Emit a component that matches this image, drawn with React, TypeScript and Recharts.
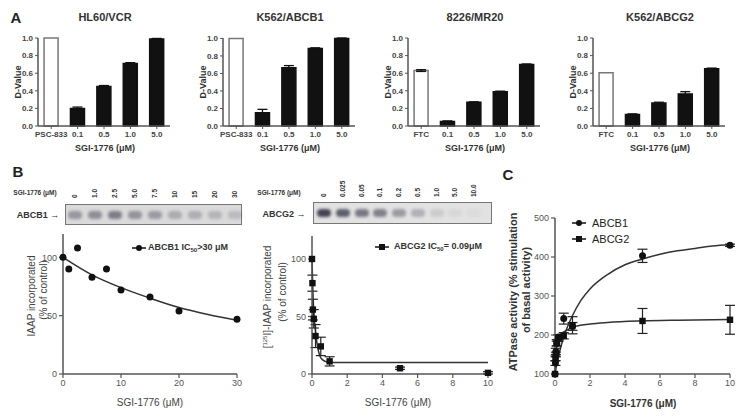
import React from 'react';
import { BarChart, Bar, Cell, ErrorBar, XAxis, YAxis, ComposedChart, Line, Scatter } from 'recharts';

// Panel A: D-values
const aTitles = ['HL60/VCR', 'K562/ABCB1', '8226/MR20', 'K562/ABCG2'];
const aCatsPsc = ['PSC-833', '0.1', '0.5', '1.0', '5.0'];
const aCatsFtc = ['FTC', '0.1', '0.5', '1.0', '5.0'];
const aTicks = [0, 0.2, 0.4, 0.6, 0.8, 1.0];
const hl60Vals = [1.0, 0.2, 0.45, 0.71, 0.99];
const hl60Err = [0, 0.015, 0.01, 0.01, 0.005];
const k562b1Vals = [1.0, 0.15, 0.665, 0.885, 1.0];
const k562b1Err = [0, 0.04, 0.025, 0.008, 0.005];
const mr20Vals = [0.63, 0.05, 0.27, 0.39, 0.7];
const mr20Err = [0.01, 0.008, 0.005, 0.006, 0.005];
const k562g2Vals = [0.605, 0.13, 0.26, 0.365, 0.65];
const k562g2Err = [0, 0.008, 0.01, 0.025, 0.008];

// Panel B: photolabeling gels
const gelB1Lanes = ['0', '1.0', '2.5', '5.0', '7.5', '10', '15', '20', '30'];
const gelB1Density = [0.4, 0.45, 0.55, 0.42, 0.38, 0.28, 0.26, 0.22, 0.18];
const gelG2Lanes = ['0', '0.025', '0.05', '0.1', '0.2', '0.5', '1.0', '5.0', '10.0'];
const gelG2Density = [0.9, 0.75, 0.6, 0.55, 0.4, 0.28, 0.12, 0.06, 0.04];

// Panel B: IAAP incorporation
const b1Conc = [0, 1, 2.5, 5, 7.5, 10, 15, 20, 30];
const b1Iaap = [100, 90, 108, 83, 90, 72, 66, 54, 47];
const b1FitConc = [0, 5, 10, 15, 20, 25, 30];
const b1FitIaap = [100, 85, 74, 65, 57, 51, 46];
const g2Conc = [0, 0.025, 0.05, 0.1, 0.2, 0.5, 1, 5, 10];
const g2Iaap = [100, 79, 56, 48, 33, 24, 11, 5, 1];
const g2IaapErr = [0, 7, 9, 8, 10, 8, 4, 1, 1];
const g2FitConc = [0, 0.05, 0.1, 0.15, 0.2, 0.3, 0.4, 0.5, 0.75, 1, 10];
const g2FitIaap = [100, 72, 55, 45, 37, 25, 18, 14, 11, 10, 10];

// Panel C: ATPase activity
const atpConc = [0, 0.025, 0.05, 0.1, 0.2, 0.5, 1, 5, 10];
const atpB1 = [100, 128, 158, 178, 195, 242, 222, 403, 430];
const atpB1Err = [0, 6, 8, 6, 6, 14, 10, 17, 3];
const atpG2 = [100, 140, 150, 180, 192, 198, 225, 236, 239];
const atpG2Err = [0, 6, 6, 8, 8, 8, 22, 32, 37];
const atpB1FitConc = [0, 0.1, 0.25, 0.5, 0.75, 1, 1.5, 2, 3, 4, 5, 6, 7, 8, 9, 10];
const atpB1Fit = [100, 125, 155, 195, 225, 250, 290, 318, 355, 380, 395, 407, 416, 422, 428, 432];
const atpG2FitConc = [0, 0.05, 0.1, 0.2, 0.3, 0.5, 0.75, 1, 2, 3, 5, 7, 10];
const atpG2Fit = [100, 150, 172, 192, 200, 208, 214, 220, 228, 232, 236, 238, 240];

const FONT = '"Liberation Sans", Arial, sans-serif';
const AXIS = '#555';

const xy = (xs: number[], ys: number[], es?: number[]) =>
  xs.map((x, i) => ({ x, y: ys[i], e: es ? es[i] : 0 }));

const T = ({ x, y, s = 9, b = false, r = false, c = '#333', children }: any) => (
  <div style={{ position: 'absolute', left: x, top: y, transform: `translate(-50%,-50%)${r ? ' rotate(-90deg)' : ''}`, fontSize: s, fontWeight: b ? 700 : 400, color: c, whiteSpace: 'nowrap', lineHeight: 1.15, textAlign: 'center' }}>
    {children}
  </div>
);

const L = ({ x, y, s = 9, b = false, c = '#333', children }: any) => (
  <div style={{ position: 'absolute', left: x, top: y, transform: 'translate(0,-50%)', fontSize: s, fontWeight: b ? 700 : 400, color: c, whiteSpace: 'nowrap', lineHeight: 1 }}>
    {children}
  </div>
);

const dot = (r: number) => (p: any) => <circle cx={p.cx} cy={p.cy} r={r} fill="#111" />;
const square = (h: number) => (p: any) => <rect x={p.cx - h} y={p.cy - h} width={h * 2} height={h * 2} fill="#111" />;

const axisProps = {
  axisLine: { stroke: AXIS, strokeWidth: 1.5 },
  tickLine: { stroke: AXIS, strokeWidth: 1.2 },
  tickSize: 4,
  tick: { fontSize: 9, fill: '#555', fontFamily: FONT },
};

const DPanel = ({ ox, title, cats, vals, errs }: any) => {
  const rows = cats.map((c: string, i: number) => ({ cat: c, v: vals[i], e: errs[i] }));
  return (
    <>
      <div style={{ position: 'absolute', left: ox, top: 0 }}>
        <BarChart width={185} height={160} data={rows} margin={{ top: 38, right: 15, bottom: 14, left: 8 }} barCategoryGap="23%">
          <XAxis dataKey="cat" interval={0} height={20} tickSize={3}
            axisLine={{ stroke: AXIS, strokeWidth: 1.5 }} tickLine={{ stroke: AXIS }}
            tick={{ fontSize: 8, fontWeight: 700, fill: '#444', fontFamily: FONT }} />
          <YAxis domain={[0, 1]} ticks={aTicks} width={30} tickSize={3} tickFormatter={(v: number) => v.toFixed(1)}
            axisLine={{ stroke: AXIS, strokeWidth: 1.5 }} tickLine={{ stroke: AXIS }}
            tick={{ fontSize: 8, fontWeight: 700, fill: '#444', fontFamily: FONT }} />
          <Bar dataKey="v" isAnimationActive={false}>
            {rows.map((_: any, i: number) => (
              <Cell key={i} fill={i === 0 ? '#fff' : '#111'} stroke={i === 0 ? '#777' : '#111'} strokeWidth={1.5} />
            ))}
            <ErrorBar dataKey="e" width={5} stroke="#111" strokeWidth={1.3} />
          </Bar>
        </BarChart>
      </div>
      <T x={ox + 105} y={17} s={11} b>{title}</T>
      <T x={ox + 18} y={82} s={9} b r>D-Value</T>
      <T x={ox + 105} y={148} s={9} b>SGI-1776 (μM)</T>
    </>
  );
};

const Gel = ({ left, top, width, height, first, step, lanes, density, bg, labelY }: any) => (
  <>
    <div style={{ position: 'absolute', left, top, width, height, background: bg, border: '1.5px solid #777', boxSizing: 'border-box' }} />
    {density.map((d: number, i: number) => (
      <div key={i} style={{ position: 'absolute', left: first + i * step - 7, top: top + height / 2 - 4, width: 14, height: 8, borderRadius: 4, background: `rgba(50,50,70,${d})`, filter: 'blur(1.5px)' }} />
    ))}
    {lanes.map((l: string, i: number) => (
      <div key={l} style={{ position: 'absolute', left: first + i * step - 4, top: labelY, transform: 'rotate(-90deg)', transformOrigin: '0 0', fontSize: 6.5, lineHeight: '8px', color: '#333', fontWeight: 700, whiteSpace: 'nowrap' }}>{l}</div>
    ))}
  </>
);

export default function App() {
  const b1Pts = xy(b1Conc, b1Iaap);
  const b1Fit = xy(b1FitConc, b1FitIaap);
  const g2Pts = xy(g2Conc, g2Iaap, g2IaapErr);
  const g2Fit = xy(g2FitConc, g2FitIaap);
  const cB1 = xy(atpConc, atpB1, atpB1Err);
  const cG2 = xy(atpConc, atpG2, atpG2Err);
  const cB1Fit = xy(atpB1FitConc, atpB1Fit);
  const cG2Fit = xy(atpG2FitConc, atpG2Fit);

  return (
    <div style={{ position: 'fixed', left: 0, top: 0, width: 748, height: 420, background: '#fff', overflow: 'hidden', fontFamily: FONT }}>
      {/* A */}
      <T x={16} y={18} s={15} b c="#222">A</T>
      <DPanel ox={0} title={aTitles[0]} cats={aCatsPsc} vals={hl60Vals} errs={hl60Err} />
      <DPanel ox={185} title={aTitles[1]} cats={aCatsPsc} vals={k562b1Vals} errs={k562b1Err} />
      <DPanel ox={370} title={aTitles[2]} cats={aCatsFtc} vals={mr20Vals} errs={mr20Err} />
      <DPanel ox={555} title={aTitles[3]} cats={aCatsFtc} vals={k562g2Vals} errs={k562g2Err} />

      {/* B gels */}
      <T x={18} y={172} s={15} b c="#222">B</T>
      <T x={35} y={193} s={6.5} b>SGI-1776 (μM)</T>
      <T x={38} y={215} s={9} b>ABCB1 →</T>
      <Gel left={65} top={204} width={177} height={21} first={75} step={20} lanes={gelB1Lanes} density={gelB1Density} bg="#dadada" labelY={198} />
      <T x={279} y={193} s={6.5} b>SGI-1776 (μM)</T>
      <T x={284} y={214} s={9} b>ABCG2 →</T>
      <Gel left={313} top={202} width={179} height={22} first={324} step={18.75} lanes={gelG2Lanes} density={gelG2Density} bg="#e2e2e2" labelY={197} />

      {/* B left plot */}
      <div style={{ position: 'absolute', left: 0, top: 220 }}>
        <ComposedChart width={260} height={200} margin={{ top: 14, right: 23, bottom: 26, left: 38 }}>
          <XAxis type="number" dataKey="x" domain={[0, 30]} ticks={[0, 10, 20, 30]} height={20} {...axisProps} />
          <YAxis type="number" domain={[0, 120]} ticks={[0, 50, 100]} width={25} {...axisProps} />
          <Line data={b1Fit} dataKey="y" type="monotone" dot={false} stroke="#333" strokeWidth={1.5} isAnimationActive={false} />
          <Scatter data={b1Pts} dataKey="y" shape={dot(3.5)} isAnimationActive={false} />
        </ComposedChart>
      </div>
      <T x={32} y={296} s={10} r c="#444">IAAP incorporated</T>
      <T x={44} y={290} s={10} r c="#444">(% of control)</T>
      <T x={150} y={403} s={10} c="#444">SGI-1776 (μM)</T>
      <svg style={{ position: 'absolute', left: 132, top: 242 }} width={16} height={12}>
        <line x1={0} y1={6} x2={14} y2={6} stroke="#111" strokeWidth={1.5} />
        <circle cx={7} cy={6} r={3} fill="#111" />
      </svg>
      <L x={148} y={248} s={9} b>ABCB1 IC<sub style={{ fontSize: 6 }}>50</sub>&gt;30 μM</L>

      {/* B right plot */}
      <div style={{ position: 'absolute', left: 270, top: 220 }}>
        <ComposedChart width={240} height={200} margin={{ top: 16, right: 22, bottom: 26, left: 17 }}>
          <XAxis type="number" dataKey="x" domain={[0, 10]} ticks={[0, 2, 4, 6, 8, 10]} height={20} {...axisProps} />
          <YAxis type="number" domain={[0, 120]} ticks={[0, 50, 100]} width={25} {...axisProps} />
          <Line data={g2Fit} dataKey="y" type="monotone" dot={false} stroke="#333" strokeWidth={1.5} isAnimationActive={false} />
          <Scatter data={g2Pts} dataKey="y" shape={square(3.2)} isAnimationActive={false}>
            <ErrorBar dataKey="e" direction="y" width={5} stroke="#222" strokeWidth={1.2} />
          </Scatter>
        </ComposedChart>
      </div>
      <T x={268} y={297} s={10} r c="#444"><span>[<sup style={{ fontSize: 6 }}>125</sup>I]-IAAP incorporated</span></T>
      <T x={283} y={292} s={10} r c="#444">(% of control)</T>
      <T x={398} y={403} s={10} c="#444">SGI-1776 (μM)</T>
      <svg style={{ position: 'absolute', left: 375, top: 241 }} width={16} height={12}>
        <line x1={0} y1={6} x2={14} y2={6} stroke="#111" strokeWidth={1.5} />
        <rect x={4} y={3} width={6} height={6} fill="#111" />
      </svg>
      <L x={394} y={247} s={9} b>ABCG2 IC<sub style={{ fontSize: 6 }}>50</sub>= 0.09μM</L>

      {/* C */}
      <T x={508} y={175} s={15} b c="#222">C</T>
      <div style={{ position: 'absolute', left: 500, top: 200 }}>
        <ComposedChart width={248} height={220} margin={{ top: 18, right: 18, bottom: 26, left: 30 }}>
          <XAxis type="number" dataKey="x" domain={[0, 10]} ticks={[0, 2, 4, 6, 8, 10]} height={20} {...axisProps} />
          <YAxis type="number" domain={[100, 500]} ticks={[100, 200, 300, 400, 500]} width={25} {...axisProps} />
          <Line data={cB1Fit} dataKey="y" type="monotone" dot={false} stroke="#333" strokeWidth={1.5} isAnimationActive={false} />
          <Line data={cG2Fit} dataKey="y" type="monotone" dot={false} stroke="#333" strokeWidth={1.5} isAnimationActive={false} />
          <Scatter data={cB1} dataKey="y" shape={dot(3.5)} isAnimationActive={false}>
            <ErrorBar dataKey="e" direction="y" width={5} stroke="#222" strokeWidth={1.2} />
          </Scatter>
          <Scatter data={cG2} dataKey="y" shape={square(3.2)} isAnimationActive={false}>
            <ErrorBar dataKey="e" direction="y" width={5} stroke="#222" strokeWidth={1.2} />
          </Scatter>
        </ComposedChart>
      </div>
      <T x={513} y={292} s={11} b r c="#333">ATPase activity  (% stimulation</T>
      <T x={526} y={290} s={11} b r c="#333">of basal activity)</T>
      <T x={643} y={404} s={10} b c="#333">SGI-1776 (μM)</T>
      <svg style={{ position: 'absolute', left: 572, top: 217 }} width={16} height={12}>
        <line x1={0} y1={6} x2={14} y2={6} stroke="#111" strokeWidth={1.5} />
        <circle cx={7} cy={6} r={3} fill="#111" />
      </svg>
      <L x={592} y={223} s={11} c="#222">ABCB1</L>
      <svg style={{ position: 'absolute', left: 572, top: 233 }} width={16} height={12}>
        <line x1={0} y1={6} x2={14} y2={6} stroke="#111" strokeWidth={1.5} />
        <rect x={4} y={3} width={6} height={6} fill="#111" />
      </svg>
      <L x={592} y={239} s={11} c="#222">ABCG2</L>
    </div>
  );
}
